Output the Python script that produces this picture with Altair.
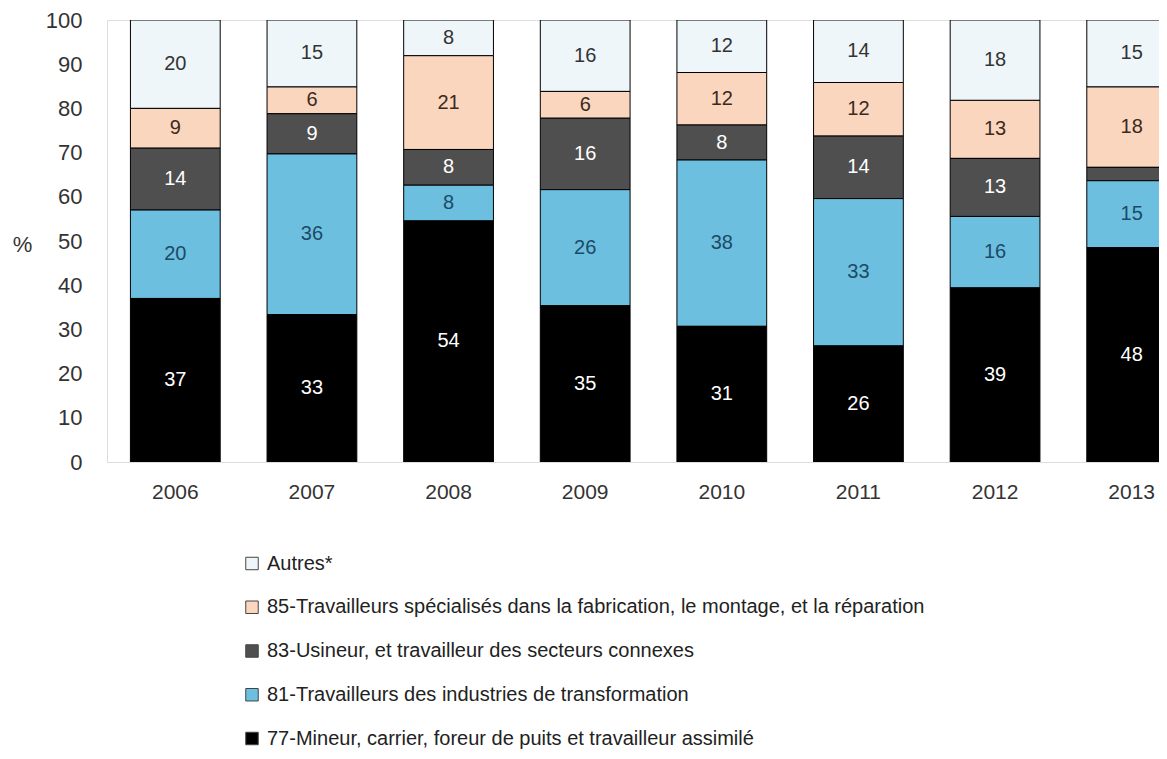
import altair as alt
import pandas as pd

years = ["2006", "2007", "2008", "2009", "2010", "2011", "2012", "2013"]
series = [
    "Autres*",
    "85-Travailleurs spécialisés dans la fabrication, le montage, et la réparation",
    "83-Usineur, et travailleur des secteurs connexes",
    "81-Travailleurs des industries de transformation",
    "77-Mineur, carrier, foreur de puits et travailleur assimilé",
]
autres = [20, 15, 8, 16, 12, 14, 18, 15]
s85 = [9, 6, 21, 6, 12, 12, 13, 18]
s83 = [14, 9, 8, 16, 8, 14, 13, 3]
s81 = [20, 36, 8, 26, 38, 33, 16, 15]
s77 = [37, 33, 54, 35, 31, 26, 39, 48]
values_by_series = [autres, s85, s83, s81, s77]

colors = ["#eef6fa", "#fbd6be", "#4f4f4f", "#6cbfdf", "#000000"]
text_colors = ["#333333", "#3b2a1e", "#ffffff", "#1d4a66", "#ffffff"]

rows = []
for i, (name, vals) in enumerate(zip(series, values_by_series)):
    for y, v in zip(years, vals):
        rows.append({"year": y, "series": name, "value": v,
                     "order": len(series) - 1 - i, "tc": text_colors[i],
                     "label": str(v) if v > 3 else ""})
df = pd.DataFrame(rows)

FONT = "Liberation Sans"

base = alt.Chart(df).transform_stack(
    stack="value", groupby=["year"], as_=["y0", "y1"], offset="normalize",
    sort=[alt.SortField("order", order="ascending")]
).transform_calculate(mid="(datum.y0 + datum.y1) / 2")

xscale = alt.Scale(range=[0, 1093], paddingInner=0.343, paddingOuter=0.1715)

bars = base.mark_bar(stroke="#000000", strokeWidth=1, clip=True).encode(
    x=alt.X("year:N", sort=years, title=None, scale=xscale,
            axis=alt.Axis(labelAngle=0, labelFontSize=21, labelColor="#333333",
                          labelPadding=19, ticks=False, domainColor="#dddddd",
                          labelFont=FONT)),
    y=alt.Y("y0:Q", title="%", scale=alt.Scale(domain=[0, 1]),
            axis=alt.Axis(values=[i / 10 for i in range(11)],
                          labelExpr="round(datum.value * 100)",
                          labelFontSize=22, labelColor="#333333", labelPadding=25,
                          ticks=False, domain=False, grid=False, labelFont=FONT,
                          titleAngle=0, titleFontSize=22, titleFontWeight="normal",
                          titleColor="#333333", titleX=-85, titleY=224, titleFont=FONT,
                          titleAlign="center", titleBaseline="middle")),
    y2="y1:Q",
    color=alt.Color("series:N", sort=series,
                    scale=alt.Scale(domain=series, range=colors),
                    legend=alt.Legend(title=None, orient="none", legendX=135, legendY=533.5,
                                      direction="vertical", symbolType="square",
                                      symbolSize=156, symbolStrokeColor="#444444",
                                      symbolStrokeWidth=1, labelFontSize=20,
                                      labelColor="#222222", labelFont=FONT,
                                      labelLimit=0, rowPadding=23.75, labelOffset=5)),
)

texts = base.mark_text(fontSize=20, font=FONT, clip=True).encode(
    x=alt.X("year:N", sort=years, scale=xscale),
    y=alt.Y("mid:Q"),
    text="label:N",
    color=alt.Color("tc:N", scale=None),
)

chart = alt.layer(bars, texts).resolve_scale(color="independent").properties(
    width=1052, height=442,
    autosize=alt.AutoSizeParams(type="none"),
    padding={"left": 99, "top": 12, "right": 0, "bottom": 288},
).configure_view(stroke=None).configure(font=FONT)

chart.save("out.html", embed_options={"renderer": "svg", "actions": False})
